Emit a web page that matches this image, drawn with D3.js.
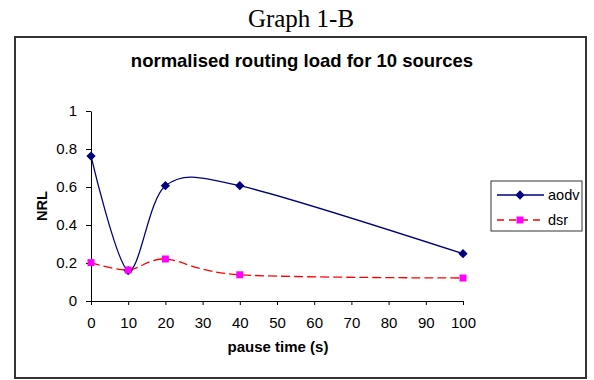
<!DOCTYPE html>
<html><head><meta charset="utf-8">
<script src="https://cdn.jsdelivr.net/npm/d3@7"></script>
<style>body{margin:0;background:#fff}svg{display:block}</style>
</head><body>
<svg id="c" width="594" height="380"></svg>
<script>
const pauseTimes = [0, 10, 20, 40, 100];
const aodv = [0.763, 0.16, 0.607, 0.607, 0.249];
const dsr = [0.202, 0.163, 0.221, 0.138, 0.121];
const xTicks = [0,10,20,30,40,50,60,70,80,90,100];
const yTicks = [0,0.2,0.4,0.6,0.8,1];

const svg = d3.select("#c");
svg.append("text").attr("x",301).attr("y",27).attr("text-anchor","middle")
  .attr("font-family","'Liberation Serif','Times New Roman',serif").attr("font-size",25).text("Graph 1-B");
svg.append("rect").attr("x",15).attr("y",37).attr("width",571).attr("height",341)
  .attr("fill","none").attr("stroke","#333").attr("stroke-width",2);
const font = "'Liberation Sans',Arial,sans-serif";
svg.append("text").attr("x",302).attr("y",67).attr("text-anchor","middle")
  .attr("font-family",font).attr("font-weight","bold").attr("font-size",18.5)
  .text("normalised routing load for 10 sources");

const x = d3.scaleLinear().domain([0,100]).range([91,463]);
const y = d3.scaleLinear().domain([0,1]).range([301,111]);

const gx = svg.append("g").attr("transform","translate(0,301)")
  .call(d3.axisBottom(x).tickValues(xTicks).tickSize(4).tickSizeOuter(0).tickPadding(12).tickFormat(d3.format("d")));
const gy = svg.append("g").attr("transform","translate(91,0)")
  .call(d3.axisLeft(y).tickValues(yTicks).tickSize(5).tickSizeOuter(0).tickPadding(9).tickFormat(d=>d===0||d===1?String(d):d3.format(".1f")(d)));
[gx,gy].forEach(g=>{g.selectAll("text").attr("font-family",font).attr("font-size",15).attr("fill","#000");
  g.selectAll("line,path").attr("stroke","#000");});

svg.append("text").attr("transform","translate(47,206) rotate(-90)").attr("text-anchor","middle")
  .attr("font-family",font).attr("font-weight","bold").attr("font-size",14.5).text("NRL");
svg.append("text").attr("x",278).attr("y",352).attr("text-anchor","middle")
  .attr("font-family",font).attr("font-weight","bold").attr("font-size",15).text("pause time (s)");

const line = d3.line().curve(d3.curveCardinal.tension(0.1)).x((d,i)=>x(pauseTimes[i])).y(d=>y(d));
svg.append("path").datum(dsr).attr("d",line).attr("fill","none").attr("stroke","#ff0000").attr("stroke-width",1.3).attr("stroke-dasharray","9,4");
svg.append("path").datum(aodv).attr("d",line).attr("fill","none").attr("stroke","#000080").attr("stroke-width",1.3);

const diamond = d3.symbol().type(d3.symbolDiamond2).size(55);
svg.selectAll(".a").data(aodv).enter().append("path")
  .attr("transform",(d,i)=>`translate(${x(pauseTimes[i])},${y(d)})`).attr("d",diamond()).attr("fill","#000080");
svg.selectAll(".s").data(dsr).enter().append("rect")
  .attr("x",(d,i)=>x(pauseTimes[i])-3.5).attr("y",d=>y(d)-3.5).attr("width",7).attr("height",7).attr("fill","#ff00ff");

// legend
const lg = svg.append("g");
lg.append("rect").attr("x",491).attr("y",181).attr("width",91).attr("height",50).attr("fill","#fff").attr("stroke","#333").attr("stroke-width",1);
lg.append("line").attr("x1",497).attr("x2",544).attr("y1",195).attr("y2",195).attr("stroke","#000080").attr("stroke-width",1.3);
lg.append("path").attr("transform","translate(520,195)").attr("d",diamond()).attr("fill","#000080");
lg.append("line").attr("x1",497).attr("x2",544).attr("y1",220).attr("y2",220).attr("stroke","#ff0000").attr("stroke-width",1.3).attr("stroke-dasharray","7,5");
lg.append("rect").attr("x",516.5).attr("y",216.5).attr("width",7).attr("height",7).attr("fill","#ff00ff");
lg.append("text").attr("x",548).attr("y",200).attr("font-family",font).attr("font-size",14.5).text("aodv");
lg.append("text").attr("x",548).attr("y",225).attr("font-family",font).attr("font-size",14.5).text("dsr");
</script>
</body></html>
